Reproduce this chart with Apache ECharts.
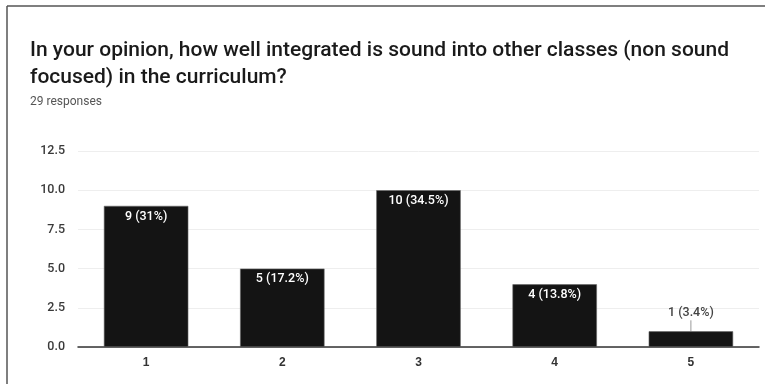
<!DOCTYPE html>
<html>
<head>
<meta charset="utf-8">
<script src="https://cdn.jsdelivr.net/npm/echarts@6/dist/echarts.min.js"></script>
<style>
  html, body { margin: 0; padding: 0; background: #fff; }
  #chart { width: 765px; height: 384px; }
</style>
</head>
<body>
<div id="chart"></div>
<script>
// answers to the survey question
const categories = ['1', '2', '3', '4', '5']
const counts = [9, 5, 10, 4, 1]
const percents = ['31%', '17.2%', '34.5%', '13.8%', '3.4%']
const yTicks = { min: 0, max: 12.5, interval: 2.5 }

const chart = echarts.init(document.getElementById('chart'))

const option = {
  animation: false,
  title: {
    text: 'In your opinion, how well integrated is sound into other classes (non sound\nfocused) in the curriculum?',
    subtext: '29 responses',
    left: 25,
    top: 32,
    itemGap: 5,
    textStyle: {
      fontFamily: 'Roboto',
      fontSize: 21,
      fontWeight: 500,
      color: '#1a1a1a',
      lineHeight: 27
    },
    subtextStyle: {
      fontFamily: 'Roboto',
      fontSize: 12,
      color: '#555'
    }
  },
  graphic: [
    { type: 'line', shape: { x1: 7, y1: 6, x2: 7, y2: 384 }, style: { stroke: '#555', lineWidth: 1.5 } },
    { type: 'line', shape: { x1: 7, y1: 6, x2: 765, y2: 6 }, style: { stroke: '#555', lineWidth: 1.5 } }
  ],
  grid: { left: 78, right: 6, top: 151, bottom: 37 },
  xAxis: {
    type: 'category',
    data: categories,
    axisLine: { lineStyle: { color: '#333', width: 1.5 } },
    axisTick: { show: false },
    axisLabel: { color: '#333', fontFamily: 'Arial', fontSize: 12, fontWeight: 'bold', margin: 10 }
  },
  yAxis: {
    type: 'value',
    min: yTicks.min,
    max: yTicks.max,
    interval: yTicks.interval,
    axisLine: { show: false },
    axisTick: { show: false },
    splitLine: { lineStyle: { color: '#eeeeee' } },
    axisLabel: {
      color: '#3a3a3a',
      fontFamily: 'Roboto',
      fontSize: 12.5,
      fontWeight: 500,
      margin: 13,
      formatter: v => v.toFixed(1)
    }
  },
  series: [{
    type: 'bar',
    barWidth: '62%',
    data: counts.map((v, i) => {
      const item = { value: v }
      if (v < 2) {
        item.label = { position: 'top', color: '#444', distance: 12 }
      }
      return item
    }),
    itemStyle: { color: '#141414', borderColor: '#666', borderWidth: 0.6 },
    label: {
      show: true,
      position: 'insideTop',
      distance: 4,
      color: '#fff',
      fontFamily: 'Roboto',
      fontSize: 12.5,
      fontWeight: 500,
      formatter: p => counts[p.dataIndex] + ' (' + percents[p.dataIndex] + ')'
    }
  }]
}

chart.setOption(option)

// leader line for the small bar whose label sits above it
const last = counts.length - 1
const barTop = chart.convertToPixel({ seriesIndex: 0 }, [last, counts[last]])
chart.setOption({
  graphic: option.graphic.concat([{
    type: 'line',
    shape: { x1: barTop[0], y1: barTop[1], x2: barTop[0], y2: barTop[1] - 11 },
    style: { stroke: '#999', lineWidth: 1 }
  }])
})
</script>
</body>
</html>
